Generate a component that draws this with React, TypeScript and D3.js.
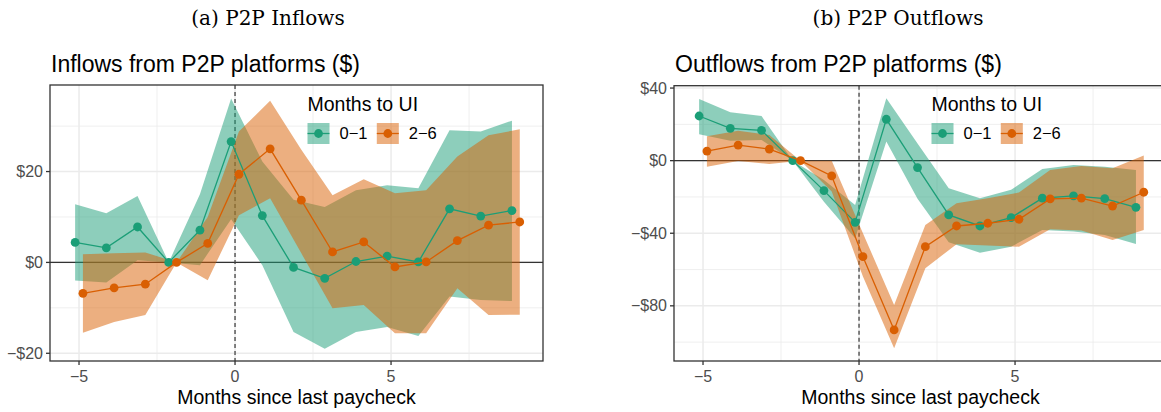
import React from 'react';
import * as d3 from 'd3';

// ---------- data ----------
const months = [-5, -4, -3, -2, -1, 0, 1, 2, 3, 4, 5, 6, 7, 8, 9];
const groups = ['0−1', '2−6'];

// Panel (a): inflows
const inGreen = [4.4, 3.2, 7.8, 0, 7.1, 26.6, 10.3, -1.1, -3.5, 0.2, 1.4, 0.1, 11.8, 10.2, 11.4];
const inGreenLo = [-4.0, -4.4, 0.5, 0, -0.6, 9.5, -0.6, -15.3, -19.0, -15.3, -14.2, -16.2, -7.5, -8.3, -8.5];
const inGreenHi = [12.8, 10.8, 14.6, 0, 15.0, 36.1, 22.2, 13.8, 12.2, 15.9, 17.0, 16.3, 29.1, 28.8, 31.2];
const inOrange = [-6.8, -5.6, -4.8, 0, 4.2, 19.4, 25.0, 13.7, 2.3, 4.5, -1.0, 0.1, 4.8, 8.2, 8.9];
const inOrangeLo = [-15.5, -13.1, -11.6, 0, -3.9, 10.4, 14.1, 2.0, -10.1, -9.4, -15.6, -15.6, -5.7, -11.6, -11.5];
const inOrangeHi = [1.8, 2.0, 2.2, 0, 10.0, 28.8, 35.6, 24.8, 14.8, 18.3, 15.2, 15.9, 23.3, 28.0, 29.3];

// Panel (b): outflows
const outGreen = [24.6, 17.8, 16.7, 0, -16.5, -34.0, 22.8, -3.8, -29.9, -36.0, -31.4, -20.7, -19.4, -20.9, -25.7];
const outGreenLo = [14.5, 11.0, 11.4, 0, -22.6, -42.8, 10.5, -21.0, -45.0, -50.7, -47.4, -38.2, -39.0, -41.0, -45.9];
const outGreenHi = [34.0, 26.7, 24.6, 0, -10.6, -24.4, 34.4, 9.5, -15.2, -20.7, -16.1, -4.6, -2.4, -3.3, -5.1];
const outOrange = [5.3, 8.6, 6.4, 0, -8.4, -52.9, -93.3, -47.4, -36.0, -34.5, -32.3, -21.1, -20.6, -25.0, -17.4];
const outOrangeLo = [-3.4, -0.2, -1.8, 0, -17.0, -63.9, -103.4, -59.3, -46.0, -46.8, -47.4, -37.8, -38.5, -43.7, -38.2];
const outOrangeHi = [13.5, 16.5, 14.2, 0, 0, -40.0, -79.5, -35.4, -23.5, -20.7, -17.6, -5.1, -2.9, -4.2, 2.8];

const xTicks = [-5, 0, 5];
const xTickLabels = ['−5', '0', '5'];
const xMinor = [-2.5, 2.5, 7.5];
const inYTicks = [-20, 0, 20];
const inYLabels = ['−$20', '$0', '$20'];
const inYMinor = [-10, 10, 30];
const outYTicks = [-80, -40, 0, 40];
const outYLabels = ['−$80', '−$40', '$0', '$40'];
const outYMinor = [-100, -60, -20, 20];

const GREEN = '#1b9e77';
const ORANGE = '#d95f02';
const SANS = '"Liberation Sans", Arial, Helvetica, sans-serif';
const SERIF = '"DejaVu Serif", serif';
const DODGE = 0.125;

type Series = { mid: number[]; lo: number[]; hi: number[]; color: string; offset: number };

type PanelProps = {
  x0: number; x1: number; y0: number; y1: number;
  yDomain: [number, number];
  yTicks: number[]; yLabels: string[]; yMinor: number[];
  series: Series[];
  title: string;
  caption: string; captionX: number;
};

function Panel(p: PanelProps) {
  const x = d3.scaleLinear().domain([-5.93, 9.87]).range([p.x0, p.x1]);
  const y = d3.scaleLinear().domain(p.yDomain).range([p.y1, p.y0]);
  const area = (s: Series) =>
    d3.area<number>()
      .x((d, i) => x(months[i] + s.offset))
      .y0((d, i) => y(s.lo[i]))
      .y1((d, i) => y(s.hi[i]))(s.mid) || '';
  const line = (s: Series) =>
    d3.line<number>()
      .x((d, i) => x(months[i] + s.offset))
      .y((d) => y(d))(s.mid) || '';
  const lx = p.x0 + 257.5;
  return (
    <g>
      <text x={p.captionX} y={25} textAnchor="middle" fontFamily={SERIF} fontSize={20} fill="#000">{p.caption}</text>
      <text x={p.x0 + 1} y={72} fontFamily={SANS} fontSize={23} fill="#000">{p.title}</text>
      <rect x={p.x0} y={p.y0} width={p.x1 - p.x0} height={p.y1 - p.y0} fill="#fff" />
      {/* minor grid */}
      {xMinor.map((v) => (
        <line key={'xm' + v} x1={x(v)} x2={x(v)} y1={p.y0} y2={p.y1} stroke="#ebebeb" strokeWidth={0.8} />
      ))}
      {p.yMinor.filter((v) => y(v) > p.y0 && y(v) < p.y1).map((v) => (
        <line key={'ym' + v} x1={p.x0} x2={p.x1} y1={y(v)} y2={y(v)} stroke="#ebebeb" strokeWidth={0.8} />
      ))}
      {/* major grid */}
      {xTicks.map((v) => (
        <line key={'xg' + v} x1={x(v)} x2={x(v)} y1={p.y0} y2={p.y1} stroke="#ebebeb" strokeWidth={1.5} />
      ))}
      {p.yTicks.map((v) => (
        <line key={'yg' + v} x1={p.x0} x2={p.x1} y1={y(v)} y2={y(v)} stroke="#ebebeb" strokeWidth={1.5} />
      ))}
      {/* reference lines */}
      <line x1={p.x0} x2={p.x1} y1={y(0)} y2={y(0)} stroke="#333" strokeWidth={1.3} />
      <line x1={x(0)} x2={x(0)} y1={p.y0} y2={p.y1} stroke="#444" strokeWidth={1.3} strokeDasharray="4,3" />
      {/* ribbons */}
      {p.series.map((s, k) => (
        <path key={'r' + k} d={area(s)} fill={s.color} fillOpacity={0.5} stroke="none" />
      ))}
      {/* lines and points */}
      {p.series.map((s, k) => (
        <g key={'l' + k}>
          <path d={line(s)} fill="none" stroke={s.color} strokeWidth={1.3} />
          {s.mid.map((v, i) => (
            <circle key={i} cx={x(months[i] + s.offset)} cy={y(v)} r={4.4} fill={s.color} />
          ))}
        </g>
      ))}
      {/* border */}
      <rect x={p.x0} y={p.y0} width={p.x1 - p.x0} height={p.y1 - p.y0} fill="none" stroke="#333" strokeWidth={1.3} />
      {/* x axis */}
      {xTicks.map((v, i) => (
        <g key={'xt' + v}>
          <line x1={x(v)} x2={x(v)} y1={p.y1} y2={p.y1 + 4} stroke="#333" strokeWidth={1.3} />
          <text x={x(v)} y={381.5} textAnchor="middle" fontFamily={SANS} fontSize={16} fill="#4d4d4d">{xTickLabels[i]}</text>
        </g>
      ))}
      {/* y axis */}
      {p.yTicks.map((v, i) => (
        <g key={'yt' + v}>
          <line x1={p.x0 - 4} x2={p.x0} y1={y(v)} y2={y(v)} stroke="#333" strokeWidth={1.3} />
          <text x={p.x0 - 7} y={y(v)} dy="0.35em" textAnchor="end" fontFamily={SANS} fontSize={16} fill="#4d4d4d">{p.yLabels[i]}</text>
        </g>
      ))}
      <text x={(p.x0 + p.x1) / 2} y={404} textAnchor="middle" fontFamily={SANS} fontSize={19.5} fill="#000">Months since last paycheck</text>
      {/* legend */}
      <text x={lx} y={110.5} fontFamily={SANS} fontSize={19.5} fill="#000">Months to UI</text>
      {p.series.map((s, k) => {
        const kx = lx + k * 69.3;
        return (
          <g key={'lg' + k}>
            <rect x={kx} y={123} width={22} height={21} fill={s.color} fillOpacity={0.5} />
            <line x1={kx} x2={kx + 22} y1={133.5} y2={133.5} stroke={s.color} strokeWidth={1.3} />
            <circle cx={kx + 11} cy={133.5} r={4.4} fill={s.color} />
            <text x={kx + 32} y={133.5} dy="0.35em" fontFamily={SANS} fontSize={16.5} fill="#000">{groups[k]}</text>
          </g>
        );
      })}
    </g>
  );
}

export default function App() {
  const inSeries: Series[] = [
    { mid: inGreen, lo: inGreenLo, hi: inGreenHi, color: GREEN, offset: -DODGE },
    { mid: inOrange, lo: inOrangeLo, hi: inOrangeHi, color: ORANGE, offset: DODGE },
  ];
  const outSeries: Series[] = [
    { mid: outGreen, lo: outGreenLo, hi: outGreenHi, color: GREEN, offset: -DODGE },
    { mid: outOrange, lo: outOrangeLo, hi: outOrangeHi, color: ORANGE, offset: DODGE },
  ];
  return (
    <svg width={1161} height={412} style={{ position: 'absolute', left: 0, top: 0, background: '#fff' }}>
      <rect x={0} y={0} width={1161} height={412} fill="#fff" />
      <Panel x0={50} x1={543} y0={85} y1={361} yDomain={[-21.7, 39.05]}
        yTicks={inYTicks} yLabels={inYLabels} yMinor={inYMinor} series={inSeries}
        title="Inflows from P2P platforms ($)" caption="(a) P2P Inflows" captionX={268} />
      <Panel x0={674} x1={1167} y0={85.7} y1={361} yDomain={[-110.4, 41.3]}
        yTicks={outYTicks} yLabels={outYLabels} yMinor={outYMinor} series={outSeries}
        title="Outflows from P2P platforms ($)" caption="(b) P2P Outflows" captionX={898} />
    </svg>
  );
}
